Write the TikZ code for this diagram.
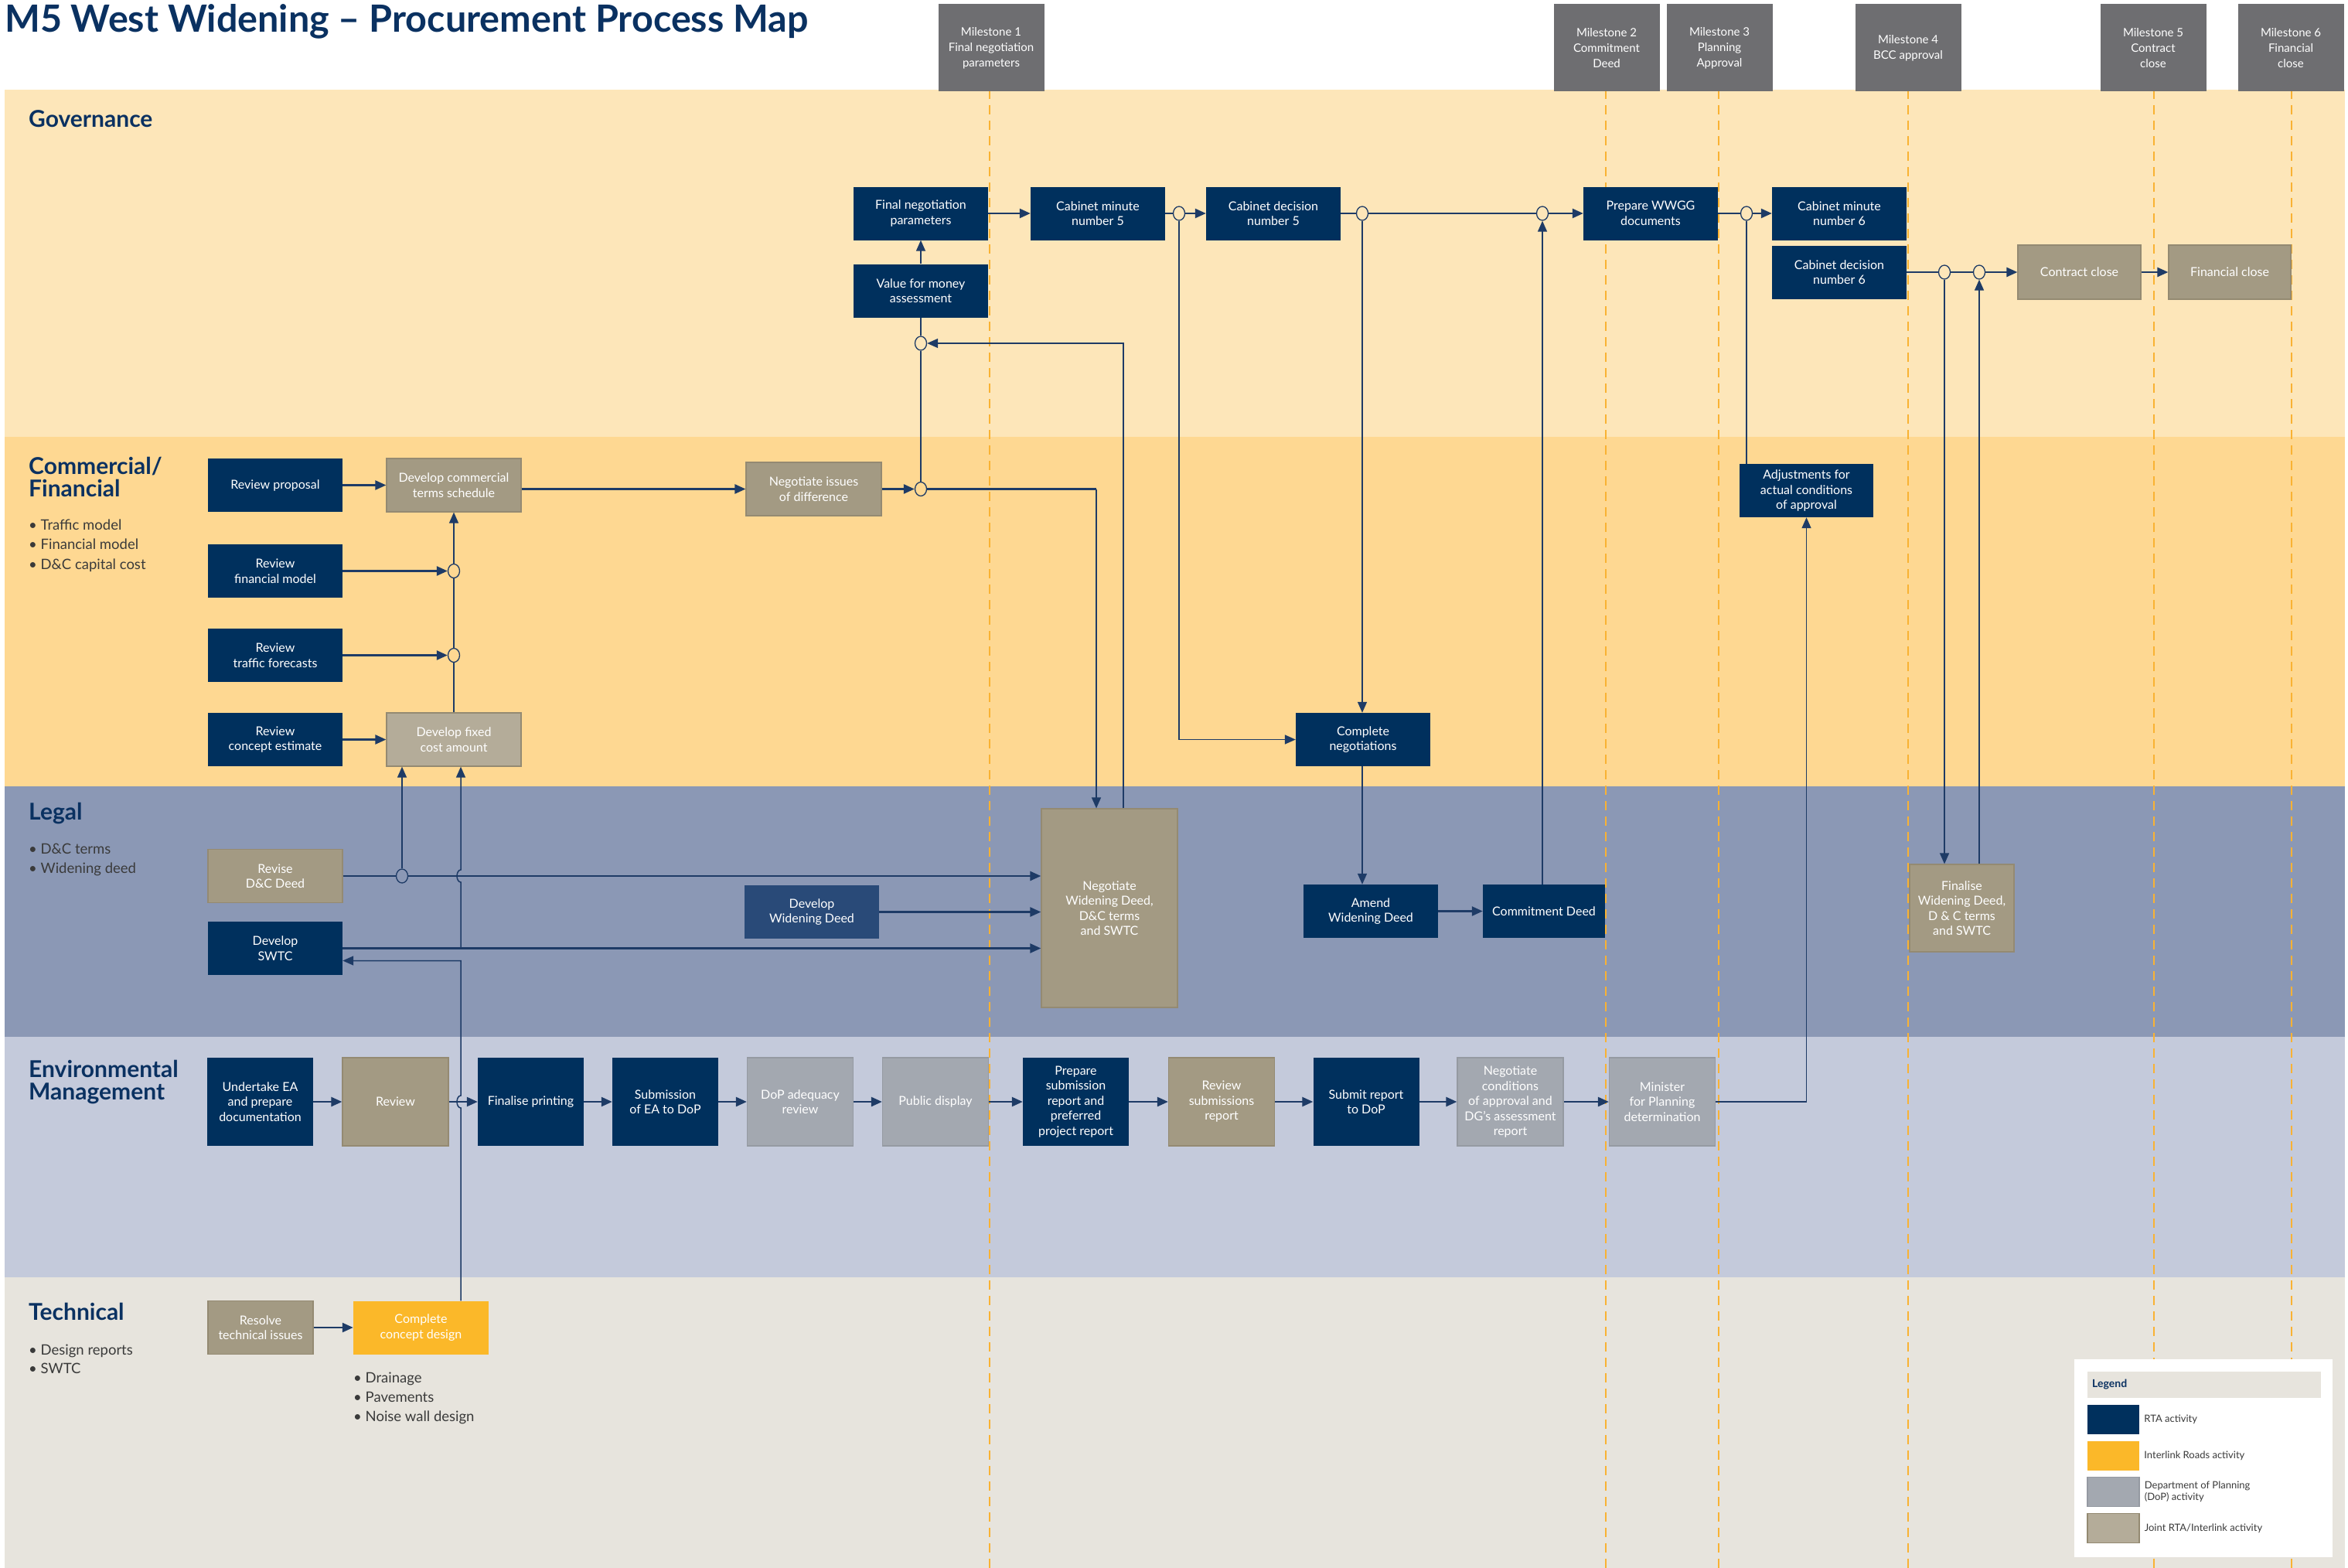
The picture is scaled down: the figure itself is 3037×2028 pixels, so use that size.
\documentclass[tikz,border=0pt]{standalone}
\usepackage{fontspec}
\setmainfont{Lato}
\usetikzlibrary{arrows.meta,shapes.geometric}

\definecolor{govbg}{HTML}{FDE6B9}
\definecolor{combg}{HTML}{FED892}
\definecolor{legbg}{HTML}{8B98B5}
\definecolor{envbg}{HTML}{C4CADB}
\definecolor{tecbg}{HTML}{E7E4DD}
\definecolor{rtanavy}{HTML}{00305D}
\definecolor{midnavy}{HTML}{294A78}
\definecolor{jointtan}{HTML}{A39A83}
\definecolor{lighttan}{HTML}{B4AC99}
\definecolor{tanedge}{HTML}{948A72}
\definecolor{dopgrey}{HTML}{A3A8B0}
\definecolor{dopedge}{HTML}{959AA2}
\definecolor{irgold}{HTML}{FBB829}
\definecolor{msgrey}{HTML}{6E6E71}
\definecolor{msline}{HTML}{F9B233}
\definecolor{linkblue}{HTML}{1E3B66}
\definecolor{headblue}{HTML}{0A3161}
\definecolor{bullettext}{HTML}{3A3A3A}

\tikzset{
  act/.style={rectangle, inner sep=0pt, align=center, text=white,
    font=\fontsize{16}{19.5}\selectfont, minimum width=174pt, minimum height=69pt},
  rta/.style={act, fill=rtanavy},
  rtamid/.style={act, fill=midnavy},
  joint/.style={act, fill=jointtan, draw=tanedge, line width=1.2pt},
  jointlt/.style={act, fill=lighttan, draw=tanedge, line width=1.2pt},
  dop/.style={act, fill=dopgrey, draw=dopedge, line width=1.2pt},
  interlink/.style={act, fill=irgold},
  envbox/.style={minimum width=137pt, minimum height=114pt},
  milestone/.style={rectangle, fill=msgrey, text=white, align=center, inner sep=0pt,
    minimum width=137pt, minimum height=113pt, font=\fontsize{15}{20}\selectfont},
  mline/.style={msline, line width=2pt, dash pattern=on 12pt off 8pt},
  junction/.style={ellipse, draw=linkblue, line width=1.3pt, inner sep=0pt,
    minimum width=15pt, minimum height=18pt},
  link/.style={linkblue, line width=1.5pt},
  flow/.style={linkblue, line width=2.4pt},
  arr/.style={flow, -{Triangle[length=14pt,width=12pt]}},
  varr/.style={link, -{Triangle[length=14pt,width=12pt]}},
  lane/.style={font=\fontsize{30}{31}\bfseries, text=headblue, anchor=base west, inner sep=0pt},
  bullet/.style={font=\fontsize{18.5}{25}\selectfont, text=bullettext, anchor=base west, inner sep=0pt},
  legtext/.style={font=\fontsize{13}{15.5}\selectfont, text=bullettext, anchor=west, align=left, inner sep=0pt},
}

\begin{document}
\begin{tikzpicture}[x=1pt,y=-1pt]
\useasboundingbox (0,0) rectangle (3037,2028);

% swim lanes
\fill[govbg] (6,116) rectangle (3033,565);
\fill[combg] (6,565) rectangle (3033,1017);
\fill[legbg] (6,1017) rectangle (3033,1341);
\fill[envbg] (6,1341) rectangle (3033,1652);
\fill[tecbg] (6,1652) rectangle (3033,2028);

% milestone lines
\foreach \mx in {1280,2077,2223,2468,2786,2964}
  \draw[mline] (\mx,116) -- (\mx,2028);

% title and milestones
\node[font=\fontsize{48.5}{54}\bfseries, text=headblue, anchor=base west, inner sep=0pt] (title) at (6,42)
  {M5 West Widening – Procurement Process Map};
\node[milestone] (ms1) at (1282,62) {Milestone 1\\Final negotiation\\parameters};
\node[milestone] (ms2) at (2078,62) {Milestone 2\\Commitment\\Deed};
\node[milestone] (ms3) at (2224,62) {Milestone 3\\Planning\\Approval};
\node[milestone] (ms4) at (2468,62) {Milestone 4\\BCC approval};
\node[milestone] (ms5) at (2785,62) {Milestone 5\\Contract\\close};
\node[milestone] (ms6) at (2963,62) {Milestone 6\\Financial\\close};

% lane headings
\node[lane] (hgov) at (37,165) {Governance};
\node[lane] (hcom1) at (37,613) {Commercial/};
\node[lane] (hcom2) at (37,642) {Financial};
\node[bullet] (bc1) at (37,685) {\textbullet\ Traffic model};
\node[bullet] (bc2) at (37,710.5) {\textbullet\ Financial model};
\node[bullet] (bc3) at (37,736) {\textbullet\ D\&C capital cost};
\node[lane] (hleg) at (37,1060) {Legal};
\node[bullet] (bl1) at (37,1104) {\textbullet\ D\&C terms};
\node[bullet] (bl2) at (37,1129) {\textbullet\ Widening deed};
\node[lane] (henv1) at (37,1393) {Environmental};
\node[lane] (henv2) at (37,1422) {Management};
\node[lane] (htec) at (37,1707) {Technical};
\node[bullet] (bt1) at (37,1752) {\textbullet\ Design reports};
\node[bullet] (bt2) at (37,1776) {\textbullet\ SWTC};
\node[bullet] (bd1) at (457,1788) {\textbullet\ Drainage};
\node[bullet] (bd2) at (457,1813) {\textbullet\ Pavements};
\node[bullet] (bd3) at (457,1838) {\textbullet\ Noise wall design};

% governance
\node[rta] (fnp) at (1191,276) {Final negotiation\\parameters};
\node[rta] (vfm) at (1191,376) {Value for money\\assessment};
\node[rta] (cm5) at (1420,276) {Cabinet minute\\number 5};
\node[rta] (cd5) at (1647,276) {Cabinet decision\\number 5};
\node[rta] (wwgg) at (2135,276) {Prepare WWGG\\documents};
\node[rta] (cm6) at (2379,276) {Cabinet minute\\number 6};
\node[rta] (cd6) at (2379,352) {Cabinet decision\\number 6};
\node[joint, minimum width=159pt, minimum height=70pt] (cclose) at (2689.5,352) {Contract close};
\node[joint, minimum width=158pt, minimum height=70pt] (fclose) at (2884,352) {Financial close};
\node[junction, fill=govbg] (j1) at (1525,276) {};
\node[junction, fill=govbg] (j2) at (1762,276) {};
\node[junction, fill=govbg] (j3) at (1995,276) {};
\node[junction, fill=govbg] (j4) at (2259,276) {};
\node[junction, fill=govbg] (j5) at (2515,352) {};
\node[junction, fill=govbg] (j6) at (2560,352) {};
\node[junction, fill=govbg] (j7) at (1191,444) {};

% commercial / financial
\node[rta] (rprop) at (356,627.5) {Review proposal};
\node[joint] (dcts) at (587,627.5) {Develop commercial\\terms schedule};
\node[joint, minimum width=175pt] (nid) at (1052.5,632.5) {Negotiate issues\\of difference};
\node[rta] (rfm) at (356,738.5) {Review\\financial model};
\node[rta] (rtf) at (356,847.5) {Review\\traffic forecasts};
\node[rta] (rce) at (356,956.5) {Review\\concept estimate};
\node[jointlt] (dfca) at (587,956.5) {Develop fixed\\cost amount};
\node[rta] (cneg) at (1763,956.5) {Complete\\negotiations};
\node[rta, minimum width=173pt] (adj) at (2336.5,634.5) {Adjustments for\\actual conditions\\of approval};
\node[junction, fill=combg] (j8) at (1191,632.5) {};
\node[junction, fill=combg] (j9) at (587,738.5) {};
\node[junction, fill=combg] (j10) at (587,847.5) {};

% legal
\node[joint] (rdcd) at (356,1133) {Revise\\D\&C Deed};
\node[rta] (swtc) at (356,1226.5) {Develop\\SWTC};
\node[rtamid] (dwd) at (1050,1179.5) {Develop\\Widening Deed};
\node[joint, minimum width=176pt, minimum height=257pt] (nwd) at (1435,1174.5)
  {Negotiate\\Widening Deed,\\D\&C terms\\and SWTC};
\node[rta] (awd) at (1773,1178.5) {Amend\\Widening Deed};
\node[rta, minimum width=158pt] (cdeed) at (1997,1178.5) {Commitment Deed};
\node[joint, minimum width=135pt, minimum height=113pt] (fwd) at (2537.5,1174.5)
  {Finalise\\Widening Deed,\\D \& C terms\\and SWTC};
\node[junction, fill=legbg] (j11) at (520,1133) {};

% environmental management
\node[rta, envbox] (uea) at (336.5,1425) {Undertake EA\\and prepare\\documentation};
\node[joint, envbox] (rev) at (511.5,1425) {Review};
\node[rta, envbox] (fprint) at (686.5,1425) {Finalise printing};
\node[rta, envbox] (subea) at (860.5,1425) {Submission\\of EA to DoP};
\node[dop, envbox] (dopar) at (1035,1425) {DoP adequacy\\review};
\node[dop, envbox] (pdisp) at (1210,1425) {Public display};
\node[rta, envbox] (psr) at (1391.5,1425) {Prepare\\submission\\report and\\preferred\\project report};
\node[joint, envbox] (rsr) at (1580,1425) {Review\\submissions\\report};
\node[rta, envbox] (sdop) at (1767,1425) {Submit report\\to DoP};
\node[dop, envbox] (ncoa) at (1953.5,1425) {Negotiate\\conditions\\of approval and\\DG’s assessment\\report};
\node[dop, envbox] (mpd) at (2150,1425) {Minister\\for Planning\\determination};

% technical
\node[joint, minimum width=136pt] (rti) at (337,1717) {Resolve\\technical issues};
\node[interlink, minimum width=175pt] (ccd) at (544.5,1717) {Complete\\concept design};

% connectors: governance
\draw[arr] (fnp) -- (cm5);
\draw[flow] (cm5) -- (j1);
\draw[arr] (j1) -- (cd5);
\draw[flow] (cd5) -- (j2);
\draw[flow] (j2) -- (j3);
\draw[arr] (j3) -- (wwgg);
\draw[flow] (wwgg) -- (j4);
\draw[arr] (j4) -- (cm6);
\draw[flow] (cd6) -- (j5);
\draw[flow] (j5) -- (j6);
\draw[arr] (j6) -- (cclose);
\draw[arr] (cclose) -- (fclose);
\draw[varr] (vfm) -- (fnp);
\draw[link] (j7) -- (vfm);
\draw[link] (j8) -- (j7);
\draw[varr] ([xshift=18pt]nwd.north) |- (j7);
\draw[flow] (j8) -- ([xshift=-17pt]nwd.north |- j8) coordinate (bend1);
\draw[varr] (bend1) -- ([xshift=-17pt]nwd.north);

% connectors: commercial / financial
\draw[arr] (rprop) -- (dcts);
\draw[arr] (dcts.east |- nid) -- (nid);
\draw[arr] (nid) -- (j8);
\draw[arr] (rfm) -- (j9);
\draw[arr] (rtf) -- (j10);
\draw[arr] (rce) -- (dfca);
\draw[link] (dfca) -- (j10);
\draw[link] (j10) -- (j9);
\draw[varr] (j9) -- (dcts);
\draw[varr] (j1) |- (cneg);
\draw[varr] (j2) -- (j2 |- cneg.north);
\draw[varr] (cneg.south -| j2) -- (j2 |- awd.north);
\draw[link] (j4) -- (j4 |- adj.north);
\draw[flow] (mpd) -- (mpd -| adj) coordinate (bend2);
\draw[varr] (bend2) -- (adj);
\draw[varr] (j5) -- (j5 |- fwd.north);
\draw[varr] (j6 |- fwd.north) -- (j6);

% connectors: legal
\coordinate (hop1) at (596,1133);
\coordinate (hop2) at (596,1425);
\coordinate (swtcin) at ([yshift=-16pt]swtc.east);
\draw[flow] (rdcd) -- (j11);
\draw[arr] (j11) -- (j11 -| nwd.west);
\draw[varr] (j11) -- (j11 |- dfca.south);
\draw[arr] (swtc) -- (swtc -| nwd.west);
\draw[arr] (dwd) -- (dwd -| nwd.west);
\draw[arr] (awd) -- (cdeed);
\draw[varr] (cdeed.north -| j3) -- (j3);
\draw[varr] (swtc -| hop1) -- ([yshift=-8pt]hop1)
  arc[start angle=90, end angle=270, x radius=5, y radius=8] -- (hop1 |- dfca.south);

% connectors: environmental and technical
\foreach \a/\b in {uea/rev, rev/fprint, fprint/subea, subea/dopar, dopar/pdisp,
  pdisp/psr, psr/rsr, rsr/sdop, sdop/ncoa, ncoa/mpd}
  \draw[arr] (\a) -- (\b);
\draw[arr] (rti) -- (ccd);
\draw[varr] (ccd.north -| hop2) -- ([yshift=-8pt]hop2)
  arc[start angle=90, end angle=270, x radius=5, y radius=8] -- (hop2 |- swtcin) -- (swtcin);

% legend
\fill[white] (2683,1758) rectangle (3017,2014);
\node[fill=tecbg, minimum width=302pt, minimum height=34pt, inner sep=0pt] (leghead) at (2851,1791) {};
\node[anchor=west, inner sep=0pt, font=\fontsize{14}{16}\bfseries, text=headblue] (legtitle) at (2706,1791) {Legend};
\node[fill=rtanavy, minimum width=67pt, minimum height=38pt, inner sep=0pt] (sw1) at (2733.5,1836) {};
\node[fill=irgold, minimum width=67pt, minimum height=38pt, inner sep=0pt] (sw2) at (2733.5,1883) {};
\node[fill=dopgrey, draw=dopedge, line width=1.2pt, minimum width=67pt, minimum height=38pt, inner sep=0pt] (sw3) at (2733.5,1929.5) {};
\node[fill=lighttan, draw=tanedge, line width=1.2pt, minimum width=67pt, minimum height=38pt, inner sep=0pt] (sw4) at (2733.5,1976.5) {};
\node[legtext] (lg1) at ([xshift=6pt]sw1.east) {RTA activity};
\node[legtext] (lg2) at ([xshift=6pt]sw2.east) {Interlink Roads activity};
\node[legtext] (lg3) at ([xshift=6pt]sw3.east) {Department of Planning\\(DoP) activity};
\node[legtext] (lg4) at ([xshift=6pt]sw4.east) {Joint RTA/Interlink activity};
\end{tikzpicture}
\end{document}
